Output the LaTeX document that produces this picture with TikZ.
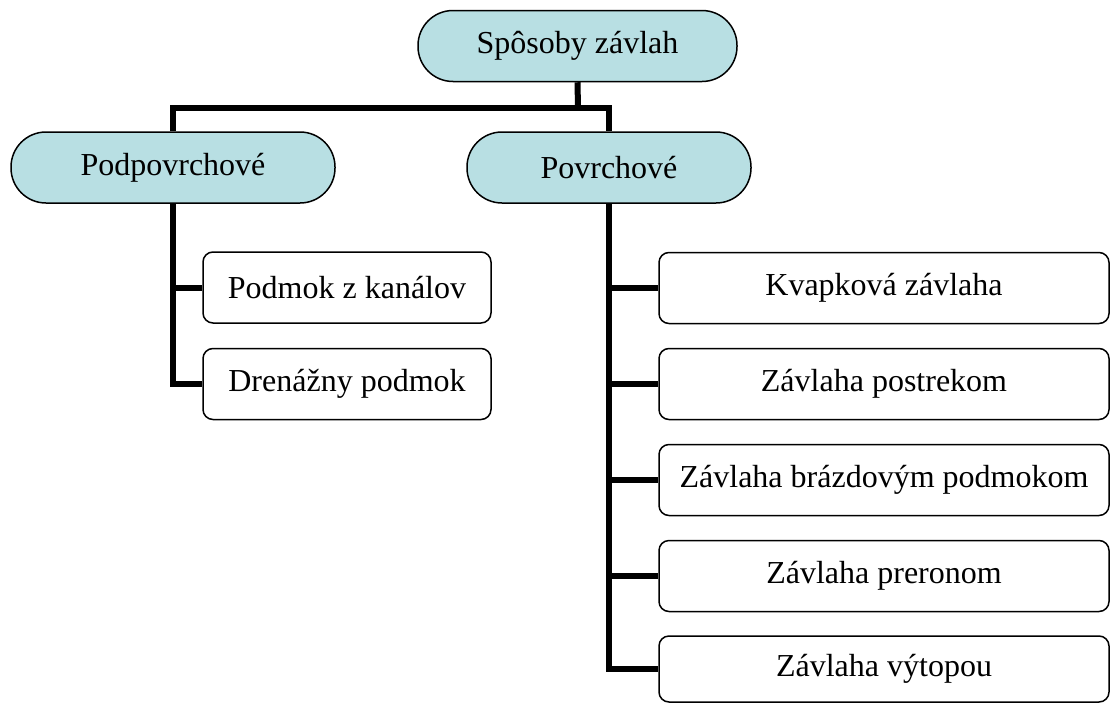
\documentclass[tikz,border=0pt]{standalone}
\usepackage{fontspec}
\setmainfont{Liberation Serif}
\usepackage{xcolor}
\usepackage{tikz}
\usetikzlibrary{positioning}
\definecolor{paleteal}{RGB}{184,223,227}

\begin{document}
\begin{tikzpicture}[x=1pt, y=-1pt,
  grp/.style={rectangle, rounded corners=35pt, draw=black, fill=paleteal, line width=1.5pt, minimum height=71pt, inner sep=0pt, font=\fontsize{32}{38}\selectfont},
  item/.style={rectangle, rounded corners=10pt, draw=black, fill=white, line width=1.5pt, minimum height=71pt, inner sep=0pt, font=\fontsize{32}{38}\selectfont},
  conn/.style={line width=6pt, line join=miter}
]
\useasboundingbox (0,0) rectangle (1110,704);
\node[grp, minimum width=319pt] (root) at (577.5,46) {Spôsoby závlah};
\node[grp, minimum width=324pt] (podp) at (173,167.5) {Podpovrchové};
\node[grp, minimum width=284pt] (povr) at (609,167.5) {Povrchové};

\node[item, minimum width=288pt] (kanal) at (347,287.5) {Podmok z kanálov};
\node[item, minimum width=288pt] (dren) at (347,384) {Drenážny podmok};

\node[item, minimum width=450pt] (kvap) at (884,288) {Kvapková závlaha};
\node[item, minimum width=450pt] (post) at (884,384) {Závlaha postrekom};
\node[item, minimum width=450pt] (braz) at (884,480) {Závlaha brázdovým podmokom};
\node[item, minimum width=450pt] (pre) at (884,576) {Závlaha preronom};
\node[item, minimum width=450pt, minimum height=66pt] (vyt) at (884,669) {Závlaha výtopou};

\coordinate (bus) at (578,108);
\draw[conn] (podp.north) |- (bus) -| (povr.north);
\draw[conn] (root.south) -- (bus);
\draw[conn] (podp.south) |- (kanal.west);
\draw[conn] (podp.south) |- (dren.west);
\foreach \n in {kvap,post,braz,pre,vyt}
  \draw[conn] (povr.south) |- (\n.west);
\end{tikzpicture}
\end{document}
